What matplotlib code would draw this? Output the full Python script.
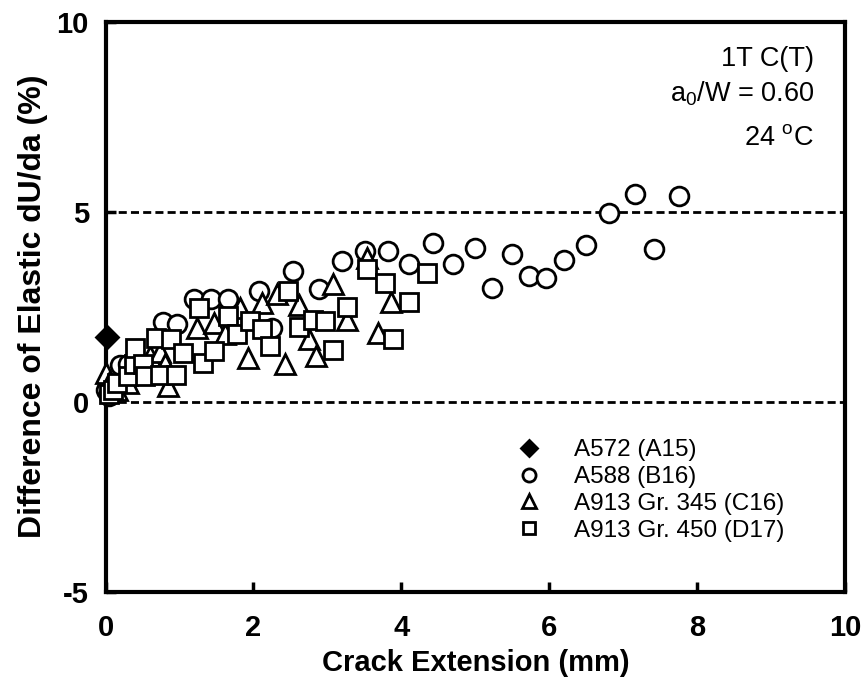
import matplotlib
matplotlib.use("Agg")
import matplotlib.pyplot as plt

plt.rcParams["font.family"] = ["Liberation Sans", "DejaVu Sans"]
plt.rcParams["mathtext.fontset"] = "custom"
plt.rcParams["mathtext.rm"] = "Liberation Sans"
plt.rcParams["axes.unicode_minus"] = False

# A572 (A15)
a572_x = [0.02]
a572_y = [1.70]

# A588 (B16)
a588_x = [0.0, 0.05, 0.2, 0.3, 0.78, 0.97, 1.19, 1.42, 1.65, 2.25, 2.07, 2.53, 2.88,
          3.2, 3.51, 3.82, 4.1, 4.43, 4.7, 5.0, 5.22, 5.5, 5.73, 5.96, 6.2, 6.49,
          6.81, 7.16, 7.42, 7.76]
a588_y = [0.3, 0.15, 0.95, 1.0, 2.1, 2.05, 2.7, 2.7, 2.7, 1.93, 2.92, 3.43, 2.96,
          3.7, 3.97, 3.97, 3.62, 4.18, 3.62, 4.05, 2.99, 3.89, 3.31, 3.26, 3.73, 4.13,
          4.95, 5.45, 4.02, 5.4]

# A913 Gr. 345 (C16)
c16_x = [0.0, 0.05, 0.15, 0.3, 0.45, 0.6, 0.74, 0.81, 0.84, 1.24, 1.46, 1.62, 1.82,
         1.92, 2.12, 2.32, 2.43, 2.62, 2.75, 2.85, 3.08, 3.26, 3.54, 3.68, 3.86]
c16_y = [0.74, 0.5, 0.3, 0.5, 0.95, 1.2, 1.3, 0.98, 0.4, 1.93, 2.06, 1.77, 2.46,
         1.14, 2.59, 2.83, 1.0, 2.54, 1.64, 1.19, 3.1, 2.14, 3.78, 1.8, 2.62]

# A913 Gr. 450 (D17)
d17_x = [0.05, 0.1, 0.15, 0.3, 0.38, 0.4, 0.5, 0.54, 0.68, 0.74, 0.88, 0.95, 1.05,
         1.26, 1.32, 1.46, 1.65, 1.78, 1.96, 2.12, 2.23, 2.47, 2.61, 2.8, 2.97, 3.08,
         3.27, 3.54, 3.78, 3.89, 4.1, 4.35]
d17_y = [0.2, 0.3, 0.5, 0.68, 1.0, 1.42, 1.0, 0.68, 1.67, 0.69, 1.64, 0.69, 1.27,
         2.46, 1.02, 1.32, 2.25, 1.77, 2.12, 1.9, 1.46, 2.9, 1.96, 2.14, 2.12, 1.35,
         2.49, 3.49, 3.12, 1.64, 2.62, 3.39]

fig = plt.figure(figsize=(8.65, 6.81), dpi=100)
ax = fig.add_axes([0.122, 0.1314, 0.855, 0.837])

for yv in (0, 5):
    ax.axhline(yv, color="black", lw=2.0, dashes=(2.9, 1.5), zorder=1)

mk = dict(linestyle="none", markeredgewidth=2.0, markeredgecolor="black",
          zorder=3, clip_on=False)
ax.plot(a572_x, a572_y, marker="D", markerfacecolor="black", markersize=11,
        label="A572 (A15)", **mk)
ax.plot(a588_x, a588_y, marker="o", markerfacecolor="white", markersize=13.5,
        label="A588 (B16)", **mk)
ax.plot(c16_x, c16_y, marker="^", markerfacecolor="white", markersize=14,
        label="A913 Gr. 345 (C16)", **mk)
ax.plot(d17_x, d17_y, marker="s", markerfacecolor="white", markersize=12.5,
        label="A913 Gr. 450 (D17)", **mk)

ax.set_xlim(0, 10)
ax.set_ylim(-5, 10)
ax.set_xticks([0, 2, 4, 6, 8, 10])
ax.set_yticks([-5, 0, 5, 10])
ax.tick_params(direction="in", length=7, width=2.5, labelsize=21)
ax.tick_params(axis="x", pad=16)
ax.tick_params(axis="y", pad=12)
for lbl in ax.get_xticklabels() + ax.get_yticklabels():
    lbl.set_fontweight("bold")
for sp in ax.spines.values():
    sp.set_linewidth(3.0)

ax.set_xlabel("Crack Extension (mm)", fontsize=21, fontweight="bold", labelpad=5)
ax.set_ylabel("Difference of Elastic dU/da (%)", fontsize=23, fontweight="bold",
              labelpad=6)

ax.text(0.958, 0.935, "1T C(T)", transform=ax.transAxes, ha="right", va="center",
        fontsize=19.5)
ax.text(0.958, 0.874, r"a$_\mathregular{0}$/W = 0.60", transform=ax.transAxes,
        ha="right", va="center", fontsize=19.5)
ax.text(0.958, 0.796, r"24 $^\mathregular{o}$C", transform=ax.transAxes,
        ha="right", va="center", fontsize=19.5)

leg = ax.legend(loc="upper left", bbox_to_anchor=(0.525, 0.297), frameon=False,
                fontsize=17.5, markerscale=0.7, handletextpad=1.1, labelspacing=0.2,
                handlelength=1.5, borderpad=0.2)

fig.savefig("out.png", dpi=100)
